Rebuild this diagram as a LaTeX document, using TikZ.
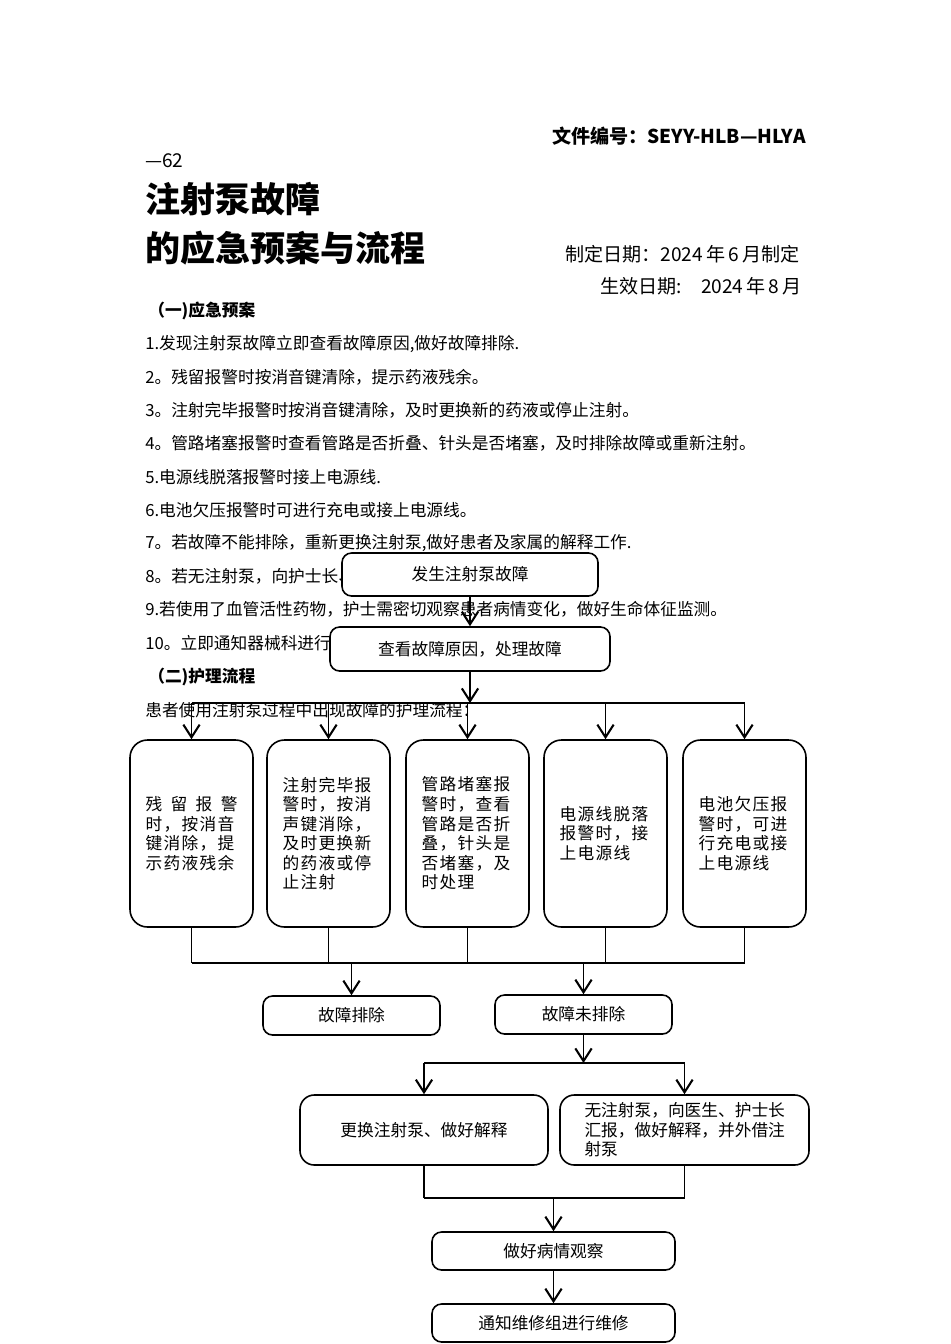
\documentclass[tikz,border=0pt]{standalone}
\usepackage{fontspec}
\setmainfont{Noto Sans CJK SC}
\newfontfamily\boxfont[LetterSpace=8]{Noto Sans CJK SC}
\usetikzlibrary{arrows.meta}
\def\pxu{0.0221cm}

\begin{document}
\begin{tikzpicture}[x=\pxu,y=-\pxu,
  every node/.style={inner sep=0pt},
  flow/.style={draw,fill=white,line width=1pt,rounded corners=6pt,align=center,
    font=\fontsize{10.5pt}{12.3pt}\selectfont},
  tall/.style={flow,rounded corners=11pt,minimum width=123*\pxu,minimum height=187*\pxu,
    text width=92*\pxu,align=left,font=\boxfont\fontsize{10.5pt}{12.3pt}\selectfont},
  arr/.style={line width=1pt,-{Straight Barb[length=2.8mm,width=3.6mm,line width=1.3pt]}},
  link/.style={line width=1pt},
  body/.style={anchor=west,font=\fontsize{10.5pt}{12.5pt}\selectfont},
  bodybold/.style={anchor=west,font=\bfseries\fontsize{10.5pt}{12.5pt}\selectfont},
  head/.style={font=\fontsize{12pt}{14pt}\selectfont}]
  \useasboundingbox (0,0) rectangle (950,1344);

  \node[anchor=east,font=\bfseries\fontsize{12pt}{14pt}\selectfont] (fileno) at (806,136) {文件编号：SEYY-HLB—HLYA};
  \node[head,anchor=west] (fileno2) at (145,161) {—62};
  \node[anchor=west,font=\bfseries\fontsize{22pt}{26pt}\selectfont] (title1) at (145,199) {注射泵故障};
  \node[anchor=west,font=\bfseries\fontsize{22pt}{26pt}\selectfont] (title2) at (145,248) {的应急预案与流程};
  \node[head,anchor=west] (made) at (565,254) {制定日期：2024\,年\,6\,月制定};
  \node[head,anchor=east] (valid) at (802,286) {生效日期:\quad 2024\,年\,8\,月};
  \node[bodybold] (sec1) at (148,311) {（一)应急预案};

  \foreach \t [count=\i] in {{1.发现注射泵故障立即查看故障原因,做好故障排除.},
      2。残留报警时按消音键清除，提示药液残余。,
      3。注射完毕报警时按消音键清除，及时更换新的药液或停止注射。,
      4。管路堵塞报警时查看管路是否折叠、针头是否堵塞，及时排除故障或重新注射。,
      5.电源线脱落报警时接上电源线.,
      6.电池欠压报警时可进行充电或接上电源线。,
      {7。若故障不能排除，重新更换注射泵,做好患者及家属的解释工作.},
      8。若无注射泵，向护士长、,
      9.若使用了血管活性药物，护士需密切观察患者病情变化，做好生命体征监测。,
      10。立即通知器械科进行}
    \node[body] (item\i) at (145,{344+(\i-1)*33.2}) {\t};

  \node[bodybold] (sec2) at (148,677) {（二)护理流程};
  \node[body] (intro) at (145,710) {患者使用注射泵过程中出现故障的护理流程：};

  \node[flow,minimum width=256*\pxu,minimum height=43*\pxu] (fault) at (470,574.5) {发生注射泵故障};
  \node[flow,minimum width=280*\pxu,minimum height=44*\pxu] (check) at (470,649) {查看故障原因，处理故障};
  \coordinate (split) at (470,703);

  \foreach \x/\t [count=\i] in {191.5/{残\hfill 留\hfill 报\hfill 警\\时，按消音\\键消除，提\\示药液残余},
      328.5/{注射完毕报\\警时，按消\\声键消除，\\及时更换新\\的药液或停\\止注射},
      467.5/{管路堵塞报\\警时，查看\\管路是否折\\叠，针头是\\否堵塞，及\\时处理},
      605.5/{电源线脱落\\报警时，接\\上电源线},
      744.5/{电池欠压报\\警时，可进\\行充电或接\\上电源线}}
    \node[tall] (b\i) at (\x,833.5) {\t};
  \coordinate (join) at (470,963);

  \node[flow,minimum width=177*\pxu,minimum height=39*\pxu] (ok) at (351.5,1015.5) {故障排除};
  \node[flow,minimum width=177*\pxu,minimum height=39*\pxu] (notok) at (583.5,1014.5) {故障未排除};
  \coordinate (split2) at (583.5,1063);

  \node[flow,rounded corners=9pt,minimum width=248*\pxu,minimum height=70*\pxu] (repl) at (424,1130) {更换注射泵、做好解释};
  \node[flow,rounded corners=9pt,minimum width=249*\pxu,minimum height=70*\pxu,text width=200*\pxu,align=left] (nopump) at (684.5,1130)
    {无注射泵，向医生、护士长\\汇报，做好解释，并外借注\\射泵};
  \coordinate (join2) at (553.5,1198);

  \node[flow,minimum width=243*\pxu,minimum height=38*\pxu] (obs) at (553.5,1251) {做好病情观察};
  \node[flow,minimum width=243*\pxu,minimum height=38*\pxu] (repair) at (553.5,1323) {通知维修组进行维修};

  \draw[arr] (fault) -- (check);
  \draw[arr] (check) -- (split);
  \draw[link] (b1.north |- split) -- (b5.north |- split);
  \foreach \i in {1,...,5}
    \draw[arr] (b\i.north |- split) -- (b\i);
  \foreach \i in {1,...,5}
    \draw[link] (b\i) -- (b\i.south |- join);
  \draw[link] (b1.south |- join) -- (b5.south |- join);
  \draw[arr] (ok.north |- join) -- (ok);
  \draw[arr] (notok.north |- join) -- (notok);

  \draw[arr] (notok) -- (split2);
  \draw[link] (repl.north |- split2) -- (nopump.north |- split2);
  \draw[arr] (repl.north |- split2) -- (repl);
  \draw[arr] (nopump.north |- split2) -- (nopump);

  \draw[link] (repl) -- (repl.south |- join2);
  \draw[link] (nopump) -- (nopump.south |- join2);
  \draw[link] (repl.south |- join2) -- (nopump.south |- join2);
  \draw[arr] (join2) -- (obs);
  \draw[arr] (obs) -- (repair);
\end{tikzpicture}
\end{document}
